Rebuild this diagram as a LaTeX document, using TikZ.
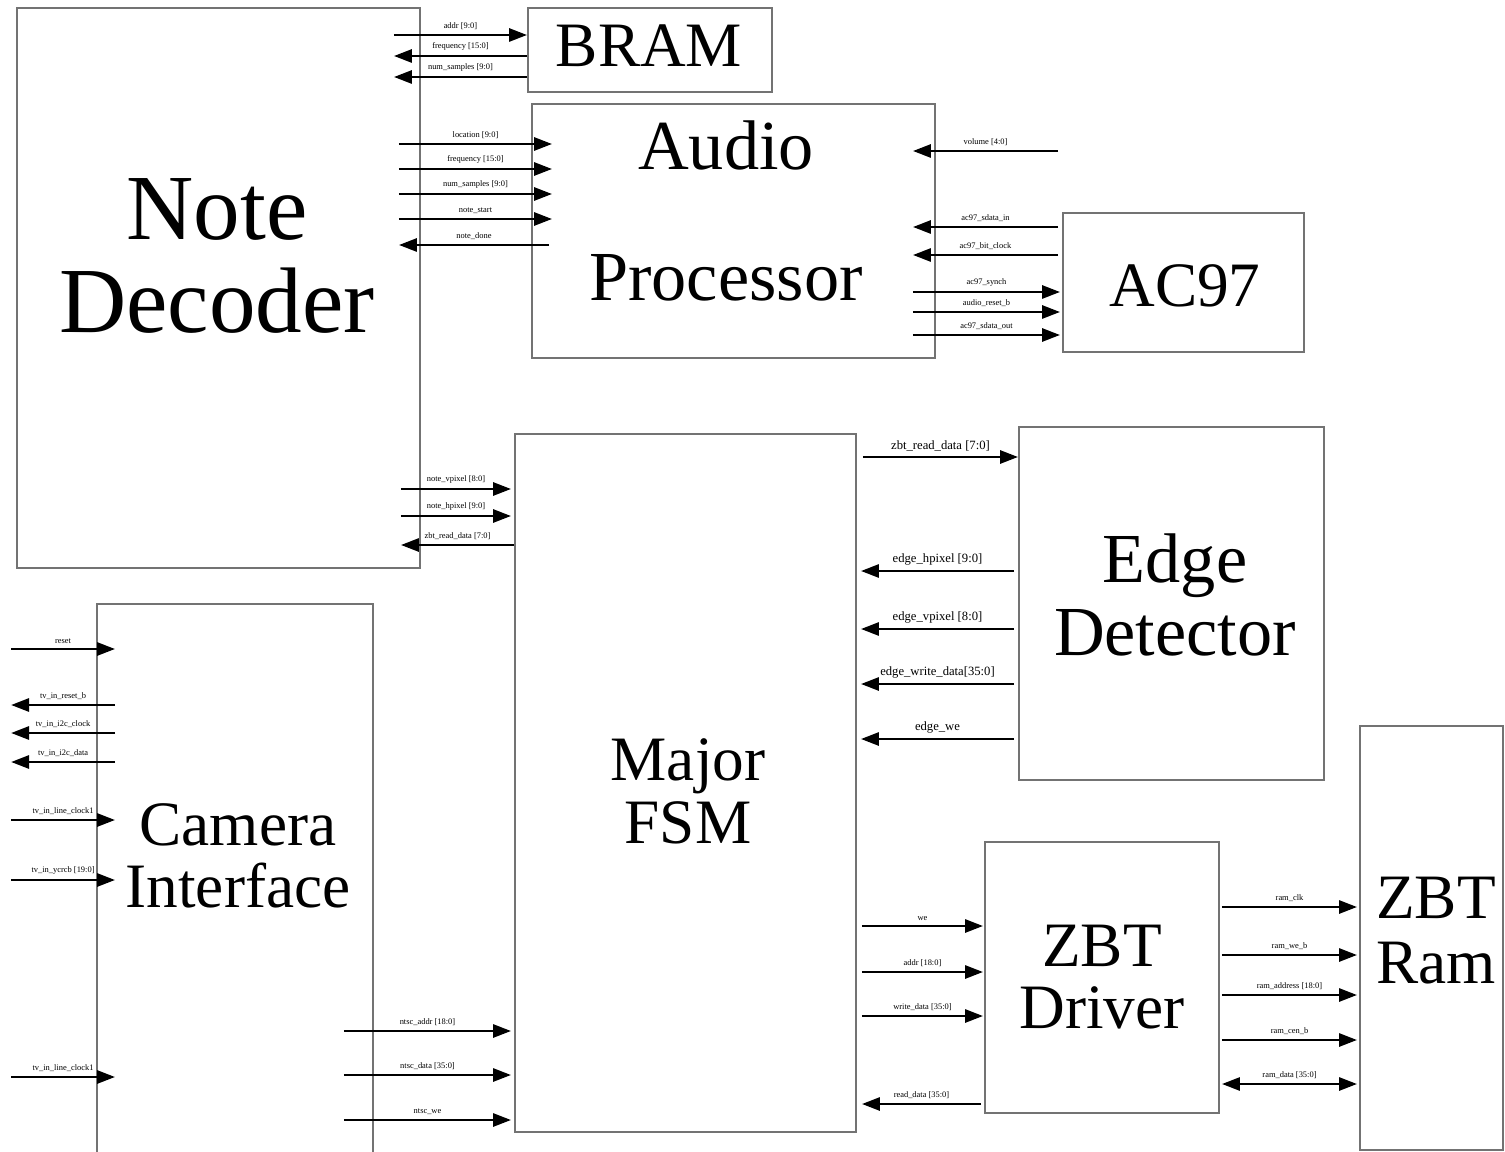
\documentclass[tikz,border=0pt]{standalone}
\usepackage{fontspec}
\setmainfont{Liberation Serif}
\usetikzlibrary{arrows.meta, calc}

\tikzset{
  blk/.style={draw=black!55, line width=1.1pt, inner sep=0pt},
  big/.style={font=\fontsize{36}{36}\selectfont, anchor=base, inner sep=0pt},
  bigger/.style={font=\fontsize{40}{40}\selectfont},
  huge/.style={font=\fontsize{53}{53}\selectfont},
  sig/.style={line width=1.6pt, -{Triangle[length=0.36cm,width=0.26cm]}},
  sigboth/.style={line width=1.6pt, {Triangle[length=0.36cm,width=0.26cm]}-{Triangle[length=0.36cm,width=0.26cm]}},
  lbl/.style={above=2pt, font=\fontsize{4.8}{5.5}\selectfont, inner sep=0.5pt},
  lblbig/.style={lbl, font=\fontsize{7.2}{8}\selectfont}
}

\begin{document}
\begin{tikzpicture}[x=0.02cm, y=-0.02cm]
    \useasboundingbox (0,0) rectangle (1505,1152);

    % the blocks
    \node[blk, minimum width=8.06cm, minimum height=11.2cm] (dec) at (218.5,288) {};
    \node[blk, minimum width=4.88cm, minimum height=1.68cm] (bram) at (650,50) {};
    \node[blk, minimum width=8.06cm, minimum height=5.08cm] (aud) at (733.5,231) {};
    \node[blk, minimum width=4.82cm, minimum height=2.78cm] (ac97) at (1183.5,282.5) {};
    \node[blk, minimum width=6.82cm, minimum height=13.96cm] (fsm) at (685.5,783) {};
    \node[blk, minimum width=6.1cm, minimum height=7.06cm] (edet) at (1171.5,603.5) {};
    \node[blk, minimum width=5.52cm, minimum height=11.4cm] (cam) at (235,889) {};
    \node[blk, minimum width=4.68cm, minimum height=5.42cm] (zbt) at (1102,977.5) {};
    \node[blk, minimum width=2.86cm, minimum height=8.48cm] (ram) at (1431.5,938) {};

    % block names
    \node[big, huge] (decA) at (217,240) {Note};
    \node[big, huge] (decB) at (217,333) {Decoder};
    \node[big] (bramT) at (649,67) {BRAM};
    \node[big, bigger] (audA) at (726,170) {Audio};
    \node[big, bigger] (audB) at (726,300) {Processor};
    \node[big] (ac97T) at (1185,307) {AC97};
    \node[big] (fsmA) at (688,780) {Major};
    \node[big] (fsmB) at (688,843) {FSM};
    \node[big, bigger] (edetA) at (1175,582) {Edge};
    \node[big, bigger] (edetB) at (1175,655) {Detector};
    \node[big] (camA) at (238,845) {Camera};
    \node[big] (camB) at (238,907) {Interface};
    \node[big] (zbtA) at (1102,966) {ZBT};
    \node[big] (zbtB) at (1102,1028) {Driver};
    \node[big] (ramA) at (1436,918) {ZBT};
    \node[big] (ramB) at (1436,983) {Ram};

    % decoder <-> BRAM
    \draw[sig] ($(dec.east |- 0,35)+(-27,0)$) -- node[lbl]{addr [9:0]} (bram.west |- 0,35);
    \foreach \y/\txt in {56/frequency [15:0], 77/num\_samples [9:0]}
        \draw[sig] (bram.west |- 0,\y) -- node[lbl]{\txt} ($(dec.east |- 0,\y)+(-27,0)$);

    % decoder <-> audio
    \foreach \y/\txt in {144/location [9:0], 169/frequency [15:0], 194/num\_samples [9:0], 219/note\_start}
        \draw[sig] ($(dec.east |- 0,\y)+(-22,0)$) -- node[lbl]{\txt} ($(aud.west |- 0,\y)+(21,0)$);
    \draw[sig] ($(aud.west |- 0,245)+(18,0)$) -- node[lbl]{note\_done} ($(dec.east |- 0,245)+(-22,0)$);

    % audio <-> AC97
    \coordinate (volR) at ($(ac97.west |- 0,151)+(-4,0)$);
    \draw[sig] (volR) -- node[lbl]{volume [4:0]} ($(aud.east |- 0,151)+(-23,0)$);
    \foreach \y/\txt in {227/ac97\_sdata\_in, 255/ac97\_bit\_clock}
        \draw[sig] ($(ac97.west |- 0,\y)+(-4,0)$) -- node[lbl]{\txt} ($(aud.east |- 0,\y)+(-23,0)$);
    \foreach \y/\txt in {292/ac97\_synch, 312/audio\_reset\_b, 335/ac97\_sdata\_out}
        \draw[sig] ($(aud.east |- 0,\y)+(-23,0)$) -- node[lbl]{\txt} ($(ac97.west |- 0,\y)+(-2,0)$);

    % decoder <-> FSM
    \foreach \y/\txt in {489/note\_vpixel [8:0], 516/note\_hpixel [9:0]}
        \draw[sig] ($(dec.east |- 0,\y)+(-20,0)$) -- node[lbl]{\txt} ($(fsm.west |- 0,\y)+(-3,0)$);
    \draw[sig] (fsm.west |- 0,545) -- node[lbl]{zbt\_read\_data [7:0]} ($(dec.east |- 0,545)+(-20,0)$);

    % camera pins
    \foreach \y/\txt in {649/reset, 820/tv\_in\_line\_clock1, 880/tv\_in\_ycrcb [19:0], 1077/tv\_in\_line\_clock1}
        \draw[sig] ($(cam.west |- 0,\y)+(-85,0)$) -- node[lbl]{\txt} ($(cam.west |- 0,\y)+(19,0)$);
    \foreach \y/\txt in {705/tv\_in\_reset\_b, 733/tv\_in\_i2c\_clock, 762/tv\_in\_i2c\_data}
        \draw[sig] ($(cam.west |- 0,\y)+(19,0)$) -- node[lbl]{\txt} ($(cam.west |- 0,\y)+(-85,0)$);

    % camera -> FSM
    \foreach \y/\txt in {1031/ntsc\_addr [18:0], 1075/ntsc\_data [35:0], 1120/ntsc\_we}
        \draw[sig] ($(cam.east |- 0,\y)+(-30,0)$) -- node[lbl]{\txt} ($(fsm.west |- 0,\y)+(-3,0)$);

    % FSM <-> edge detector
    \draw[sig] ($(fsm.east |- 0,457)+(6,0)$) -- node[lblbig]{zbt\_read\_data [7:0]} (edet.west |- 0,457);
    \foreach \y/\txt in {571/edge\_hpixel [9:0], 629/edge\_vpixel [8:0], 684/edge\_write\_data[35:0], 739/edge\_we}
        \draw[sig] ($(edet.west |- 0,\y)+(-4,0)$) -- node[lblbig]{\txt} ($(fsm.east |- 0,\y)+(4,0)$);

    % FSM <-> ZBT driver
    \foreach \y/\txt in {926/we, 972/addr [18:0], 1016/write\_data [35:0]}
        \draw[sig] ($(fsm.east |- 0,\y)+(5,0)$) -- node[lbl]{\txt} ($(zbt.west |- 0,\y)+(-1,0)$);
    \draw[sig] ($(zbt.west |- 0,1104)+(-3,0)$) -- node[lbl]{read\_data [35:0]} ($(fsm.east |- 0,1104)+(5,0)$);

    % ZBT driver <-> ZBT ram
    \foreach \y/\txt in {907/ram\_clk, 955/ram\_we\_b, 995/ram\_address [18:0], 1040/ram\_cen\_b}
        \draw[sig] ($(zbt.east |- 0,\y)+(2,0)$) -- node[lbl]{\txt} ($(ram.west |- 0,\y)+(-2,0)$);
    \draw[sigboth] ($(zbt.east |- 0,1084)+(2,0)$) -- node[lbl]{ram\_data [35:0]} ($(ram.west |- 0,1084)+(-2,0)$);
\end{tikzpicture}
\end{document}
